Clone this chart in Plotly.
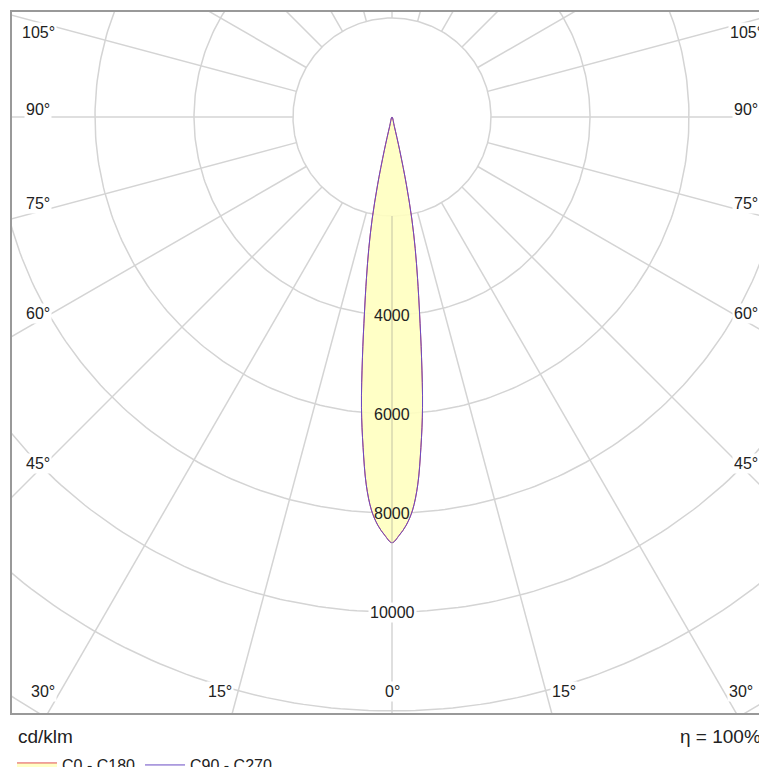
import numpy as np
import plotly.graph_objects as go

# luminous intensity distribution, cd/klm, gamma in degrees
gamma = [0, 1, 2, 3, 4, 5, 6, 7, 8, 9, 10, 11, 12, 13, 14, 15]
c0_c180 = [8600, 8450, 8250, 7950, 7450, 6700, 5900, 4900, 4000, 3300, 2700, 2100, 1400, 700, 200, 0]
c90_c270 = [8600, 8450, 8250, 7950, 7450, 6700, 5900, 4900, 4000, 3300, 2700, 2100, 1400, 700, 200, 0]
circle_values = [2000, 4000, 6000, 8000, 10000, 12000, 14000]
radial_labels = [4000, 6000, 8000, 10000]
angle_labels_bottom = [30, 15, 0, 15, 30]
angle_labels_side = [45, 60, 75, 90, 105]

S = 2000 / 99.0  # units per pixel
W, H = 767, 767
ml, mr, mt, mb = 4, 4, 4, 62
cx, cy = 384, 109
xr = [(ml - cx) * S, (W - mr - cx) * S]
yr = [-(H - mb - cy) * S, (cy - mt) * S]

grid = "#d4d4d4"
fig = go.Figure()

# circles
t = np.linspace(0, 2 * np.pi, 400)
for r in circle_values:
    fig.add_trace(go.Scatter(x=r * np.sin(t), y=r * np.cos(t), mode="lines",
                             line=dict(color=grid, width=1.5), hoverinfo="skip", showlegend=False))
# radial lines
for a in range(0, 360, 15):
    ar = np.radians(a)
    fig.add_trace(go.Scatter(x=[2000 * np.sin(ar), 20000 * np.sin(ar)],
                             y=[-2000 * np.cos(ar), -20000 * np.cos(ar)], mode="lines",
                             line=dict(color=grid, width=1.5), hoverinfo="skip", showlegend=False))


def curve(vals):
    g = np.radians(np.array(gamma, float))
    v = np.array(vals, float)
    gg = np.concatenate([-g[::-1], g[1:]])
    vv = np.concatenate([v[::-1], v[1:]])
    return vv * np.sin(gg), -vv * np.cos(gg)

x0, y0 = curve(c0_c180)
x9, y9 = curve(c90_c270)
fig.add_trace(go.Scatter(x=x0, y=y0, mode="lines", fill="toself", fillcolor="rgba(255,255,192,0.9)",
                         line=dict(color="#e05050", width=1, shape="spline"), name="C0 - C180", hoverinfo="skip"))
fig.add_trace(go.Scatter(x=x9, y=y9, mode="lines",
                         line=dict(color="#6a4bc4", width=1, shape="spline"), name="C90 - C270", hoverinfo="skip"))
# center line over fill
fig.add_trace(go.Scatter(x=[0, 0], y=[-2000, -8600], mode="lines",
                         line=dict(color="rgba(200,200,170,0.7)", width=1.5), hoverinfo="skip", showlegend=False))

font = dict(family="Liberation Sans, Arial", size=16, color="#222")
for r in radial_labels:
    fig.add_annotation(x=0, y=-r, text=str(r), showarrow=False, font=font,
                       bgcolor="rgba(0,0,0,0)" if r < 9000 else "white")

# angle labels on bottom edge
yb = -(H - mb - cy - 22) * S
for i, a in enumerate(angle_labels_bottom):
    sgn = -1 if i < 2 else 1
    x = sgn * np.tan(np.radians(a)) * abs(yb)
    fig.add_annotation(x=x, y=yb, text=f"{a}°", showarrow=False, font=font, bgcolor="white",
                       xshift=sgn * 18 if a else 0)
# angle labels on sides
xs = (cx - 30) * S
for a in angle_labels_side:
    y = -xs / np.tan(np.radians(a)) if a != 90 else 0
    ys = 8 if a < 100 else -10
    for sgn in (-1, 1):
        fig.add_annotation(x=sgn * xs, y=y, text=f"{a}°", showarrow=False, font=font,
                           bgcolor="white", yshift=ys)

fig.add_annotation(xref="paper", yref="paper", x=0.005, y=-0.015, yanchor="top", xanchor="left",
                   text="cd/klm", showarrow=False, font=dict(family="Liberation Sans, Arial", size=19, color="#222"))
fig.add_annotation(xref="paper", yref="paper", x=0.99, y=-0.015, yanchor="top", xanchor="right",
                   text="η = 100%", showarrow=False, font=dict(family="Liberation Sans, Arial", size=19, color="#222"))

fig.update_layout(
    width=W, height=H, margin=dict(l=ml, r=mr, t=mt, b=mb, autoexpand=False),
    plot_bgcolor="white", paper_bgcolor="white",
    xaxis=dict(range=xr, showgrid=False, zeroline=False, showticklabels=False, showline=True,
               mirror=True, linecolor="#999", linewidth=1.5),
    yaxis=dict(range=yr, showgrid=False, zeroline=False, showticklabels=False, showline=True,
               mirror=True, linecolor="#999", linewidth=1.5),
    legend=dict(orientation="h", x=0, y=-0.05, xanchor="left", yanchor="top",
                font=dict(family="Liberation Sans, Arial", size=16, color="#222"),
                itemwidth=40),
    showlegend=True,
)
fig.write_html("out.html")
